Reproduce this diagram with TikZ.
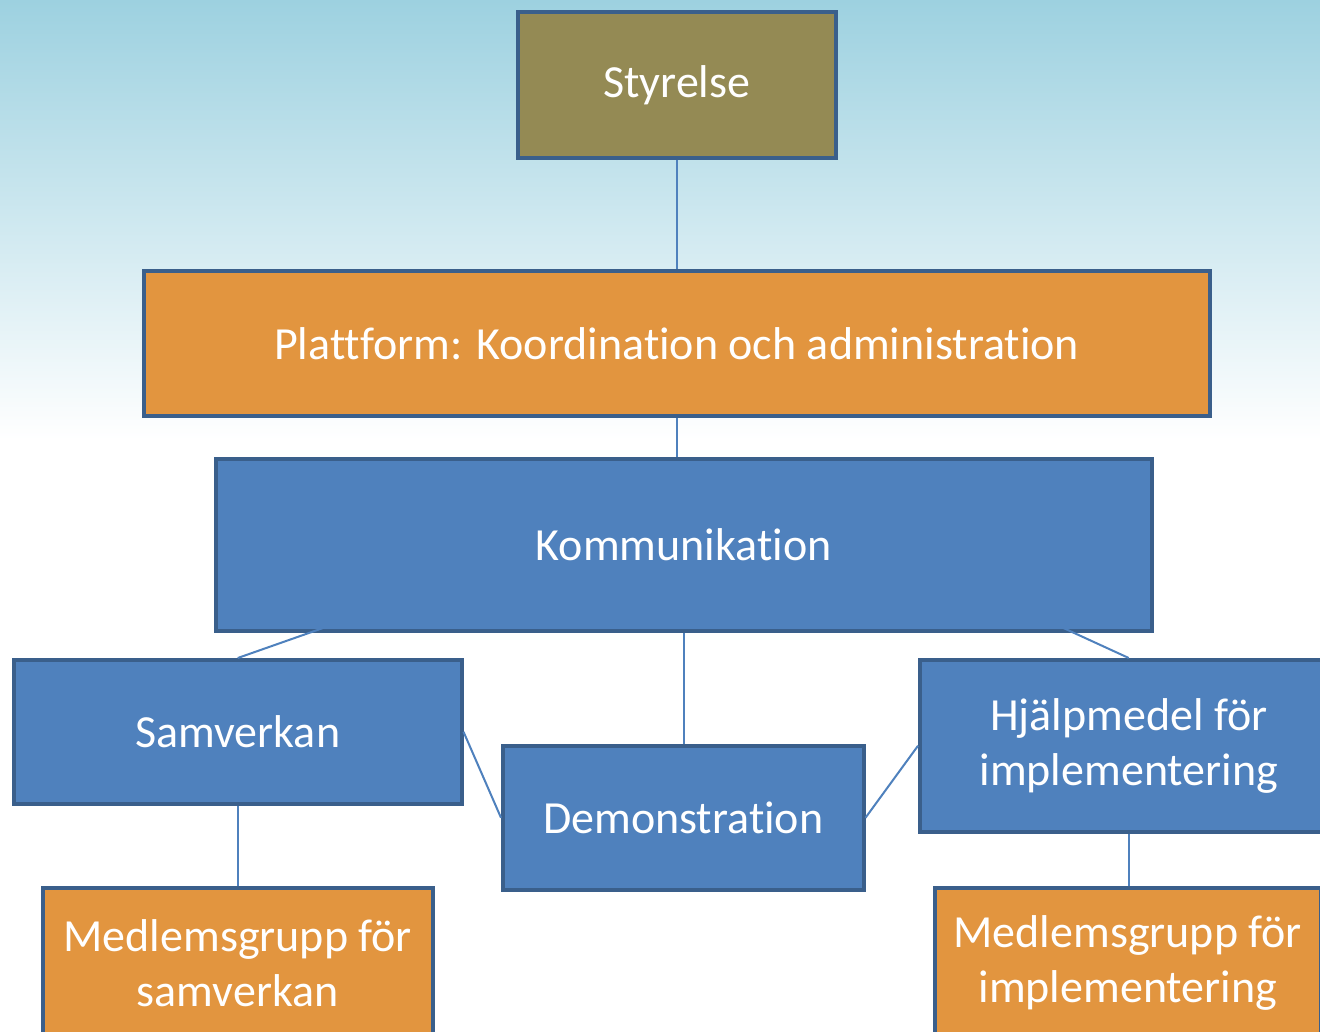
\documentclass[tikz,border=0pt]{standalone}
\usepackage{fontspec}
\setmainfont[Ligatures=CommonOff]{Carlito}
\definecolor{bgblue}{HTML}{9DD1E0}
\definecolor{olive}{HTML}{948A54}
\definecolor{orng}{HTML}{E2953F}
\definecolor{blu}{HTML}{4F81BD}
\definecolor{edge}{HTML}{3A5F8B}
\tikzset{
  box/.style={draw=edge, line width=3.5pt, anchor=north west, inner sep=0pt,
    text=white, align=center, font=\fontsize{46}{55}\selectfont},
  conn/.style={draw=blu, line width=2pt}
}
\begin{document}
\begin{tikzpicture}[x=1pt,y=-1pt]
\useasboundingbox (0,0) rectangle (1320,1031);
\clip (0,0) rectangle (1320,1031);
\fill[white] (0,0) rectangle (1320,1031);
\shade[top color=bgblue, bottom color=white] (0,0) rectangle (1320,440);
\coordinate (kl) at (360,615);
\coordinate (kr) at (1035,615);
\node[box, fill=olive, minimum width=318pt, minimum height=146pt] (sty) at (516,10) {Styrelse};
\node[box, fill=orng, minimum width=1066pt, minimum height=145pt] (pla) at (142,269) {Plattform: Koordination och administration};
\node[box, fill=blu, minimum width=936pt, minimum height=172pt] (kom) at (214,457) {Kommunikation};
\node[box, fill=blu, minimum width=448pt, minimum height=144pt] (sam) at (12,658) {Samverkan};
\node[box, fill=blu, minimum width=361pt, minimum height=144pt] (dem) at (501,744) {Demonstration};
\node[box, fill=blu, minimum width=418pt, minimum height=172pt] (hja) at (918,658) {Hjälpmedel för\\implementering};
\node[box, fill=orng, minimum width=390pt, minimum height=150pt] (ms) at (41,886) {Medlemsgrupp för\\samverkan};
\node[box, fill=orng, minimum width=386pt, minimum height=150pt] (mi) at (933,886) {Medlemsgrupp för\\implementering};
\draw[conn] (sty.south) -- (pla.north);
\draw[conn] (pla.south) -- (pla.south |- kom.north);
\draw[conn] (kl) -- (sam.north);
\draw[conn] (kr) -- (hja.north);
\draw[conn] (kom.south) -- (kom.south |- dem.north);
\draw[conn] (sam.east) -- (dem.west);
\draw[conn] (dem.east) -- (hja.west);
\draw[conn] (sam.south) -- (ms.north);
\draw[conn] (hja.south) -- (hja.south |- mi.north);
\end{tikzpicture}
\end{document}
